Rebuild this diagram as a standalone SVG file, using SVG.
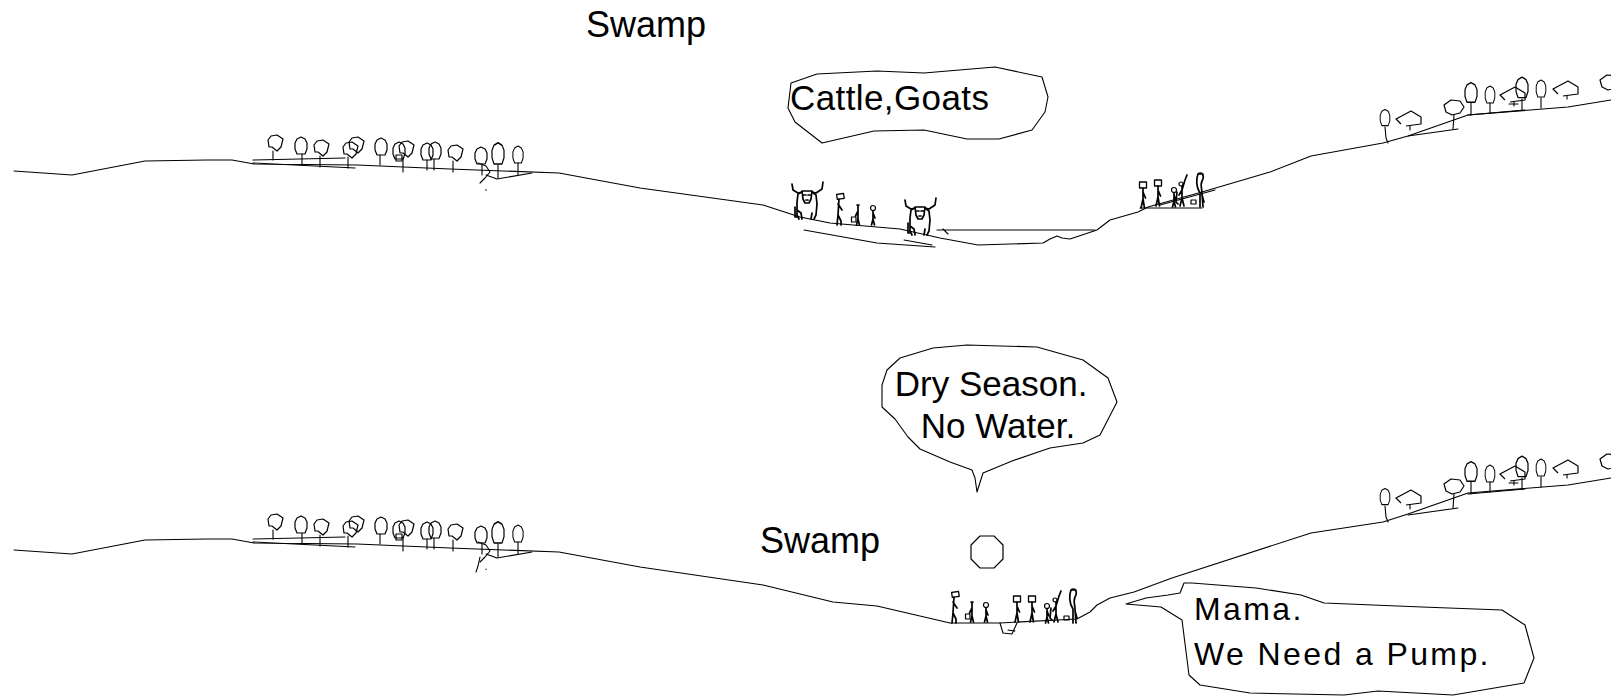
<svg xmlns="http://www.w3.org/2000/svg" xmlns:xlink="http://www.w3.org/1999/xlink" width="1611" height="696" viewBox="0 0 1611 696">
  <style>
    .ln { fill: none; stroke: #000; stroke-width: 1.1; stroke-linejoin: round; stroke-linecap: round; }
    .cr { fill: none; stroke: #000; stroke-width: 1.2; stroke-linejoin: round; }
    .fig { fill: none; stroke: #000; stroke-width: 1.7; stroke-linejoin: round; stroke-linecap: round; }
    .bub { fill: #fff; stroke: #000; stroke-width: 1.1; stroke-linejoin: round; }
    .lbl { font-family: "Liberation Sans", Arial, sans-serif; fill: #000; }
  </style>
  <defs>
    <!-- tree crowns, centred on the origin -->
    <polygon id="c-oval" class="cr" points="0,-9 4,-7 6,-3 6,3 4,8 -4,8 -6,3 -6,-3 -4,-7"/>
    <polygon id="c-sq" class="cr" points="-7,-4 -4,-8 2,-9 8,-5 6,3 2,7 -3,3 -6,3"/>
    <polyline id="c-pent" class="cr" points="-8,5 -13,0 2,-8 12,-2 12,5 -3,7"/>
    <polygon id="c-hex" class="cr" points="-10,-3 -3,-8 6,-7 10,-1 6,5 -2,7 -8,4"/>

    <!-- people, feet at the origin -->
    <g id="carrier" class="fig">
      <rect x="-3.5" y="-26" width="7" height="6" stroke-width="1.3"/>
      <path d="M0,-20 L0,-9 L-2,0 M0,-9 L1.5,0 M0,-16 L2.5,-10"/>
    </g>
    <g id="walker" class="fig">
      <rect x="-2" y="-31" width="7" height="5" stroke-width="1.3" transform="rotate(-8 1 -28)"/>
      <path d="M0,-26 L-1,-10 L-2,0 M-1,-10 L2,-4 L2,0 M-1,-21 L3,-15"/>
    </g>
    <g id="kid" class="fig">
      <circle cx="0" cy="-17" r="2.5" stroke-width="1.2"/>
      <path d="M0,-14.5 L0,-6 L-1.5,0 M0,-6 L1.5,0 M0,-12 L2,-7"/>
    </g>
    <g id="kidb" class="fig">
      <path d="M0,-19 L0,-6 L-1.5,0 M0,-6 L1.5,0 M0,-14 L-2.5,-9 M-1,-20 L1,-20"/>
      <rect x="-6.5" y="-8" width="4.5" height="5" stroke-width="1.2"/>
    </g>
    <g id="armsup" class="fig">
      <path d="M0,-20 L0,-8 L-2,0 M0,-8 L2,0 M0,-16 L3,-26 L5,-31 M0,-16 L-3,-11 M-5,-14 L-6,-4 L-4,-2"/>
      <circle cx="-1" cy="-22" r="2" stroke-width="1.2"/>
    </g>
    <g id="tall" class="fig">
      <path d="M0,0 L0,-14 C-4,-20 -4,-28 -2,-33 C2,-36 5,-31 2,-26 C0,-22 2,-18 2,-14 L3,0 M-2,-33 L3,-33 M2,-12 L4,-5"/>
      <rect x="-9" y="-7" width="5" height="4" stroke-width="1.2"/>
    </g>

    <!-- cow, hooves at the origin -->
    <g id="cow" class="fig" stroke-width="1.3">
      <path d="M-15,-35 L-14,-29 L-9,-26 L-5,-27 M16,-37 L15,-30 L9,-26 L5,-27"/>
      <path d="M-5,-28 L-4,-20 L-2,-16 L2,-16 L4,-20 L5,-28 Z M-3,-24 L-1,-24 M1,-24 L3,-24 M-1,-19 L1,-19"/>
      <path d="M-5,-27 L-9,-25 L-10,-17 L-10,-4 L-8,0 M5,-27 L9,-24 L10,-15 L9,-4 L7,0 M-10,-9 L-6,-6 L-5,0 M5,-6 L4,0 M-12,-12 L-12,-2 L-10,-2"/>
    </g>

    <!-- grove on the left bank -->
    <g id="treesL">
      <use href="#c-sq" x="275" y="144"/>
      <use href="#c-oval" x="301" y="146"/>
      <use href="#c-sq" x="321" y="149"/>
      <use href="#c-sq" x="350" y="151"/>
      <use href="#c-sq" x="356" y="146"/>
      <use href="#c-oval" x="381" y="147"/>
      <use href="#c-oval" x="399" y="151"/>
      <use href="#c-sq" x="406" y="150"/>
      <use href="#c-oval" x="427" y="152"/>
      <use href="#c-oval" x="435" y="151"/>
      <use href="#c-sq" x="455" y="154"/>
      <use href="#c-oval" x="481" y="156"/>
      <use href="#c-oval" transform="translate(498 154) scale(1 1.25)"/>
      <use href="#c-oval" transform="translate(518 155) scale(0.85 1)"/>
      <rect class="cr" x="396" y="155" width="6" height="6"/>
      <path class="ln" d="M273,151 L273,160 M302,154 L302,164 M320,156 L320,167 M348,157 L348,168 M380,155 L380,165 M403,158 L403,172 M427,160 L427,170 M434,159 L434,170 M453,161 L453,172 M482,164 L482,175 M498,165 L498,178 M518,163 L518,175"/>
      <path class="ln" d="M478,163 L486,166 L490,172 L485,178 L480,183 M486,175 L497,179 L532,173"/>
      <path class="ln" d="M253,160 L345,158 M253,163 L355,168"/>
    </g>

    <!-- grove on the right bank -->
    <g id="treesR">
      <use href="#c-oval" transform="translate(1385 118) scale(0.8 0.95)"/>
      <use href="#c-pent" x="1409" y="119"/>
      <use href="#c-hex" x="1454" y="108"/>
      <use href="#c-oval" transform="translate(1471 93) scale(1 1.15)"/>
      <use href="#c-oval" transform="translate(1490 95) scale(0.8 1)"/>
      <use href="#c-pent" x="1513" y="95"/>
      <use href="#c-oval" transform="translate(1522 88) scale(1 1.2)"/>
      <use href="#c-oval" transform="translate(1541 89) scale(0.8 1)"/>
      <use href="#c-pent" x="1566" y="89"/>
      <use href="#c-hex" x="1610" y="83"/>
      <path class="ln" d="M1385,127 L1386,138 L1388,143 M1410,126 L1410,130 M1454,115 L1453,129 M1471,103 L1471,115 M1490,103 L1490,113 M1514,102 L1514,106 M1509,104 L1518,104 M1522,99 L1522,110 M1541,98 L1541,108 M1567,96 L1567,99"/>
      <path class="ln" d="M1408,136 L1458,129 M1468,115 L1525,110"/>
    </g>
  </defs>

  <!-- upper panel: wet season -->
  <g id="wet">
    <path class="ln" d="M14,171 L72,175 L145,161 L207,160 L232,160 L254,164 L357,165 L450,169 L559,173 L640,188 L763,205 L800,217 L830,223 L900,229 L940,238 L978,245 L1043,243 L1050,239 L1057,236 L1062,238 L1070,239 L1097,230 L1110,220 L1138,212 L1148,207 L1202,192 L1270,172 L1311,156 L1383,143 L1408,136 L1468,115 L1568,107 L1611,100"/>
    <path class="ln" d="M937,230 L1095,230 M804,230 L877,243 L935,247 M904,240 L932,245 M943,229 L948,234 M1140,208 L1202,208 M1160,205 L1215,190"/>
    <circle cx="486" cy="190" r="0.8" fill="#000"/>
    <use href="#treesL"/>
    <use href="#treesR"/>
    <use href="#cow" x="807" y="219"/>
    <use href="#walker" x="839" y="225"/>
    <use href="#kidb" x="858" y="225"/>
    <use href="#kid" x="873" y="225"/>
    <use href="#cow" x="920" y="235"/>
    <use href="#carrier" x="1143" y="208"/>
    <use href="#carrier" x="1158" y="206"/>
    <use href="#kid" x="1174" y="207"/>
    <use href="#armsup" x="1182" y="206"/>
    <use href="#tall" x="1200" y="207"/>
    <text class="lbl" x="586" y="37" font-size="36">Swamp</text>
    <path class="bub" d="M788,108 L791,83 L817,74 L877,71 L924,73 L995,67 L1042,77 L1048,97 L1045,112 L1032,130 L999,139 L967,139 L924,130 L874,131 L822,143 L795,122 Z"/>
    <text class="lbl" x="790" y="110" font-size="35" letter-spacing="0.4">Cattle,Goats</text>
  </g>

  <!-- lower panel: dry season -->
  <g id="dry">
    <path class="ln" d="M14,550 L72,554 L145,540 L207,539 L232,539 L254,543 L357,544 L450,548 L559,552 L640,567 L763,585 L833,602 L877,606 L950,623 L1000,623 L1077,619 L1090,612 L1097,605 L1110,598 L1134,592 L1172,578 L1311,533 L1383,522 L1408,514 L1468,493 L1568,485 L1611,478"/>
    <path class="ln" d="M1000,623 L1003,633 L1012,634 L1017,623 M1008,630 L1015,631"/>
    <path class="ln" d="M480,557 L478,566 L476,572 M486,569 L486,569.5"/>
    <use href="#treesL" y="379"/>
    <use href="#treesR" y="379"/>
    <use href="#walker" x="954" y="623"/>
    <use href="#kidb" x="972" y="622"/>
    <use href="#kid" x="986" y="622"/>
    <use href="#carrier" x="1017" y="622"/>
    <use href="#carrier" x="1032" y="622"/>
    <use href="#kid" x="1047" y="623"/>
    <use href="#armsup" x="1056" y="622"/>
    <use href="#tall" x="1073" y="623"/>
    <polygon class="cr" points="1003,545 994,536 980,536 971,545 971,559 980,568 994,568 1003,559"/>
    <text class="lbl" x="760" y="553" font-size="36">Swamp</text>
    <path class="bub" d="M882,385 L887,370 L900,358 L933,348 L967,345 L1037,347 L1083,360 L1108,378 L1117,402 L1100,435 L1083,443 L1050,448 L1012,461 L983,473 L977,492 L975,478 L972,470 L950,462 L920,449 L908,437 L895,419 L882,407 Z"/>
    <text class="lbl" font-size="35" text-anchor="middle">
      <tspan x="996" y="396">Dry Season.</tspan>
      <tspan x="998" y="438">No Water.</tspan>
    </text>
    <path class="bub" d="M1126,604 L1161,607 L1182,620 L1189,675 L1200,685 L1250,693 L1344,695 L1378,691 L1453,695 L1524,683 L1534,658 L1525,625 L1502,610 L1422,607 L1324,603 L1301,595 L1256,588 L1192,583 L1184,583 L1180,593 L1168,595 L1146,598 Z"/>
    <text class="lbl" font-size="32" letter-spacing="2.4">
      <tspan x="1194" y="620">Mama.</tspan>
      <tspan x="1194" y="665">We Need a Pump.</tspan>
    </text>
  </g>
</svg>
